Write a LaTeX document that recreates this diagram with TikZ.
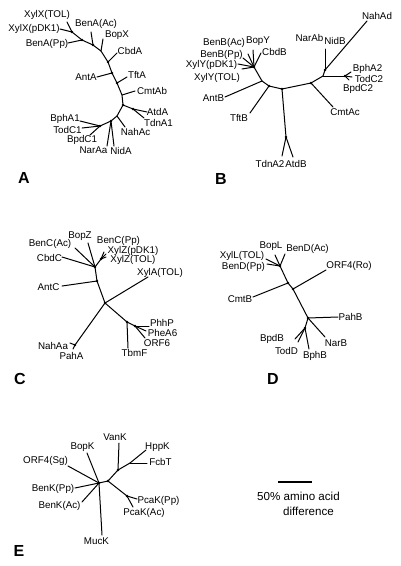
\documentclass[tikz,border=0pt]{standalone}
\usepackage{fontspec}
\setmainfont{Liberation Sans}
\tikzset{
  branch/.style={line width=1pt, line cap=round, line join=round},
  leaf/.style={inner sep=0pt, font=\fontsize{9.8}{11}\selectfont},
  paneltag/.style={inner sep=0pt, font=\fontsize{16}{18}\selectfont\bfseries},
  scaletext/.style={inner sep=0pt, font=\fontsize{11.6}{13}\selectfont}
}
\def\drawbr{\draw[branch]}
\def\leafnode{\node[leaf]}
\def\forkdot#1{\fill (#1) circle (1.3pt);}

\begin{document}
\begin{tikzpicture}[x=1pt,y=-1pt]
\useasboundingbox (0,0) rectangle (400,566);

% ---------- A : large subunits
\coordinate (a1) at (72,32);   % XylX fork
\coordinate (a2) at (82,40);
\coordinate (a3) at (93,45);
\coordinate (a4) at (101,51);
\coordinate (a5) at (108,62);
\coordinate (a6) at (112,73);
\coordinate (a7) at (117,83);
\coordinate (a8) at (122,95);
\coordinate (a9) at (123,105);
\coordinate (a10) at (117,116);
\coordinate (a11) at (111,121); % NarAa / NidA fork
\coordinate (a12) at (100,126); % BphA1 fork
\coordinate (a13) at (133,109); % AtdA / TdnA1 fork
\drawbr (a1) -- (a2) -- (a3) -- (a4) -- (a5) -- (a6) -- (a7) -- (a8) -- (a9) -- (a10) -- (a11) -- (a12);
\drawbr (a9) -- (a13);
\foreach \f in {a1,a2,a3,a5,a6,a7,a9,a11,a12,a13} {\forkdot{\f}}

\leafnode (xylxtol) at (47,15) {XylX(TOL)};
\leafnode (xylxpdk) at (34,29) {XylX(pDK1)};
\leafnode (benapp) at (47,44) {BenA(Pp)};
\leafnode (benaac) at (96,23.5) {BenA(Ac)};
\leafnode (bopx) at (117,35) {BopX};
\leafnode (cbda) at (130,51) {CbdA};
\leafnode (anta) at (86,77) {AntA};
\leafnode (tfta) at (137,75) {TftA};
\leafnode (cmtab) at (152,90.5) {CmtAb};
\leafnode (atda) at (157.5,112) {AtdA};
\leafnode (tdna) at (158.5,122.5) {TdnA1};
\leafnode (nahac) at (135.5,131.5) {NahAc};
\leafnode (naraa) at (93.5,150.5) {NarAa};
\leafnode (nida) at (121,150.5) {NidA};
\leafnode (bpha) at (65,118.5) {BphA1};
\leafnode (todc) at (67.5,130) {TodC1};
\leafnode (bpdc) at (82,140) {BpdC1};

\coordinate (e-xylxtol) at (67,22);
\coordinate (e-xylxpdk) at (60,29);
\coordinate (e-benapp) at (68,43);
\coordinate (e-benaac) at (91,32);
\coordinate (e-bopx) at (103,39);
\coordinate (e-cbda) at (117,53);
\coordinate (e-anta) at (97,77);
\coordinate (e-tfta) at (127,77);
\coordinate (e-cmtab) at (135,91);
\coordinate (e-atda) at (147,112);
\coordinate (e-tdna) at (144,118);
\coordinate (e-nahac) at (125,127);
\coordinate (e-naraa) at (107,146);
\coordinate (e-nida) at (114,146);
\coordinate (e-bpha) at (80,121);
\coordinate (e-todc) at (82,128);
\coordinate (e-bpdc) at (90,135);
\drawbr (e-xylxtol) -- (a1);
\drawbr (e-xylxpdk) -- (a1);
\drawbr (e-benapp) -- (a2);
\drawbr (e-benaac) -- (a3);
\drawbr (e-bopx) -- (a4);
\drawbr (e-cbda) -- (a5);
\drawbr (e-anta) -- (a6);
\drawbr (e-tfta) -- (a7);
\drawbr (e-cmtab) -- (a8);
\drawbr (e-atda) -- (a13);
\drawbr (e-tdna) -- (a13);
\drawbr (e-nahac) -- (a10);
\drawbr (e-naraa) -- (a11);
\drawbr (e-nida) -- (a11);
\drawbr (e-bpha) -- (a12);
\drawbr (e-todc) -- (a12);
\drawbr (e-bpdc) -- (a12);
\node[paneltag] (tagA) at (24,178) {A};

% ---------- B : small subunits
\coordinate (b1) at (325,70);  % NahAd / NidB fork
\coordinate (b2) at (323,76);
\coordinate (b3) at (345,76);  % BphA2 fork
\coordinate (b4) at (311,83);  % CmtAc fork
\coordinate (b5) at (282,89);
\coordinate (b6) at (286,137); % TdnA2 / AtdB fork
\coordinate (b7) at (269,86);
\coordinate (b8) at (262,81);
\coordinate (b9) at (254,67);  % BenB fork
\drawbr (b1) -- (b2) -- (b4) -- (b5) -- (b7) -- (b8) -- (b9);
\drawbr (b2) -- (b3);
\drawbr (b5) -- (b6);
\foreach \f in {b1,b3,b4,b5,b6,b7,b9} {\forkdot{\f}}

\leafnode (nahad) at (377,15.5) {NahAd};
\leafnode (narab) at (309.5,38) {NarAb};
\leafnode (nidb) at (335,41) {NidB};
\leafnode (bpha2) at (367.5,68.5) {BphA2};
\leafnode (todc2) at (369,78.5) {TodC2};
\leafnode (bpdc2) at (358,88.5) {BpdC2};
\leafnode (cmtac) at (345,112) {CmtAc};
\leafnode (tdna2) at (270,163.5) {TdnA2};
\leafnode (atdb) at (296,163.5) {AtdB};
\leafnode (tftb) at (239,117.5) {TftB};
\leafnode (antb) at (213.5,98) {AntB};
\leafnode (benbac) at (224,43) {BenB(Ac)};
\leafnode (bopy) at (258,41) {BopY};
\leafnode (cbdb) at (274.5,52) {CbdB};
\leafnode (benbpp) at (221.5,54.5) {BenB(Pp)};
\leafnode (xylypdk) at (211.5,64.5) {XylY(pDK1)};
\leafnode (xylytol) at (217,77.5) {XylY(TOL)};

\coordinate (e-nahad) at (367,21);
\coordinate (e-nidb) at (325,49);
\coordinate (e-bpha2) at (351,72);
\coordinate (e-todc2) at (352,77);
\coordinate (e-bpdc2) at (349,80);
\coordinate (e-cmtac) at (333,107);
\coordinate (e-tdna2) at (282,156);
\coordinate (e-atdb) at (293,157);
\coordinate (e-tftb) at (250,113);
\coordinate (e-antb) at (225,97);
\coordinate (e-benbac) at (248,54);
\coordinate (e-bopy) at (253,50);
\coordinate (e-cbdb) at (261,53);
\coordinate (e-benbpp) at (243,58);
\coordinate (e-xylypdk) at (238,64);
\coordinate (e-xylytol) at (242,69);
\drawbr (e-nahad) -- (b1);
\drawbr (e-nidb) -- (b1);
\drawbr (e-bpha2) -- (b3);
\drawbr (e-todc2) -- (b3);
\drawbr (e-bpdc2) -- (b3);
\drawbr (e-cmtac) -- (b4);
\drawbr (e-tdna2) -- (b6);
\drawbr (e-atdb) -- (b6);
\drawbr (e-tftb) -- (b7);
\drawbr (e-antb) -- (b8);
\drawbr (e-benbac) -- (b9);
\drawbr (e-bopy) -- (b9);
\drawbr (e-cbdb) -- (b9);
\drawbr (e-benbpp) -- (b9);
\drawbr (e-xylypdk) -- (b9);
\drawbr (e-xylytol) -- (b9);
\node[paneltag] (tagB) at (221,179) {B};

% ---------- C : reductases
\coordinate (c0) at (101,259); % BenC(Pp) / XylZ fork
\coordinate (c1) at (95,267);
\coordinate (c2) at (97,281);
\coordinate (c3) at (105,303); % central fork
\coordinate (c4) at (127,322); % TbmF fork
\coordinate (c5) at (135,326); % PhhP fork
\coordinate (c6) at (75,345);  % NahAa / PahA fork
\drawbr (c0) -- (c1) -- (c2) -- (c3) -- (c4) -- (c5);
\drawbr (c3) -- (c6);
\foreach \f in {c0,c1,c2,c3,c4,c5,c6} {\forkdot{\f}}

\leafnode (bencac) at (50,243.5) {BenC(Ac)};
\leafnode (bopz) at (80,236) {BopZ};
\leafnode (cbdc) at (49.5,258) {CbdC};
\leafnode (bencpp) at (118.5,241) {BenC(Pp)};
\leafnode (xylzpdk) at (133,251) {XylZ(pDK1)};
\leafnode (xylztol) at (133,260) {XylZ(TOL)};
\leafnode (xyla) at (160,272.5) {XylA(TOL)};
\leafnode (antc) at (48.5,287) {AntC};
\leafnode (tbmf) at (134.5,353) {TbmF};
\leafnode (phhp) at (162,323) {PhhP};
\leafnode (phea) at (162.5,333) {PheA6};
\leafnode (orf6) at (157,343) {ORF6};
\leafnode (nahaa) at (53,346) {NahAa};
\leafnode (paha) at (71.5,356) {PahA};

\coordinate (e-bencac) at (75,248);
\coordinate (e-bopz) at (88,243);
\coordinate (e-cbdc) at (62,257);
\coordinate (e-bencpp) at (104,252);
\coordinate (e-xylzpdk) at (106,254);
\coordinate (e-xylztol) at (106,257);
\coordinate (e-xyla) at (148,277);
\coordinate (e-antc) at (62,286);
\coordinate (e-tbmf) at (128,348);
\coordinate (e-phhp) at (149,326);
\coordinate (e-phea) at (146,331);
\coordinate (e-orf6) at (145,338);
\coordinate (e-nahaa) at (70,343);
\coordinate (e-paha) at (73,349);
\drawbr (e-bencac) -- (c1);
\drawbr (e-bopz) -- (c1);
\drawbr (e-cbdc) -- (c1);
\drawbr (e-bencpp) -- (c0);
\drawbr (e-xylzpdk) -- (c0);
\drawbr (e-xylztol) -- (c0);
\drawbr (e-xyla) -- (c3);
\drawbr (e-antc) -- (c2);
\drawbr (e-tbmf) -- (c4);
\drawbr (e-phhp) -- (c5);
\drawbr (e-phea) -- (c5);
\drawbr (e-orf6) -- (c5);
\drawbr (e-nahaa) -- (c6);
\drawbr (e-paha) -- (c6);
\node[paneltag] (tagC) at (20,379) {C};

% ---------- D : dehydrogenases
\coordinate (d1) at (280,266); % BenD fork
\coordinate (d2) at (288,283); % CmtB fork
\coordinate (d3) at (293,289); % ORF4(Ro) fork
\coordinate (d4) at (308,318); % PahB / NarB fork
\coordinate (d6) at (305,328); % BphB fork
\drawbr (d1) -- (d2) -- (d3) -- (d4) -- (d6);
\foreach \f in {d1,d2,d3,d4,d6} {\forkdot{\f}}

\leafnode (xylltol) at (242,256) {XylL(TOL)};
\leafnode (bendpp) at (243.5,267) {BenD(Pp)};
\leafnode (bopl) at (271,246.5) {BopL};
\leafnode (bendac) at (307.5,248.5) {BenD(Ac)};
\leafnode (orf4ro) at (349,266) {ORF4(Ro)};
\leafnode (cmtb) at (240,299) {CmtB};
\leafnode (pahb) at (350.5,317) {PahB};
\leafnode (narb) at (336,343) {NarB};
\leafnode (bpdb) at (272,339) {BpdB};
\leafnode (todd) at (286.5,351) {TodD};
\leafnode (bphb) at (315,355.5) {BphB};

\coordinate (e-xylltol) at (266,259);
\coordinate (e-bendpp) at (267,264);
\coordinate (e-bopl) at (275,255);
\coordinate (e-bendac) at (285,254);
\coordinate (e-orf4ro) at (326,270);
\coordinate (e-cmtb) at (253,297);
\coordinate (e-pahb) at (338,317);
\coordinate (e-narb) at (325,337);
\coordinate (e-bpdb) at (295,339);
\coordinate (e-todd) at (298,342);
\coordinate (e-bphb) at (309,349);
\drawbr (e-xylltol) -- (d1);
\drawbr (e-bendpp) -- (d1);
\drawbr (e-bopl) -- (d1);
\drawbr (e-bendac) -- (d1);
\drawbr (e-orf4ro) -- (d3);
\drawbr (e-cmtb) -- (d2);
\drawbr (e-pahb) -- (d4);
\drawbr (e-narb) -- (d4);
\drawbr (e-bpdb) -- (d6);
\drawbr (e-todd) -- (d6);
\drawbr (e-bphb) -- (d6);
\node[paneltag] (tagD) at (273,379) {D};

% ---------- E : transporters
\coordinate (e0) at (99,483);  % BenK fork
\coordinate (e1) at (108,481);
\coordinate (e2) at (118,470); % VanK fork
\coordinate (e3) at (130,463); % HppK / FcbT fork
\coordinate (e4) at (127,496); % PcaK fork
\drawbr (e0) -- (e1) -- (e2) -- (e3);
\drawbr (e1) -- (e4);
\foreach \f in {e0,e1,e2,e4} {\forkdot{\f}}

\leafnode (orf4sg) at (45.5,461) {ORF4(Sg)};
\leafnode (bopk) at (82.5,447) {BopK};
\leafnode (benkpp) at (53,489) {BenK(Pp)};
\leafnode (benkac) at (59.5,506) {BenK(Ac)};
\leafnode (muck) at (96.5,541) {MucK};
\leafnode (vank) at (115,437) {VanK};
\leafnode (hppk) at (157.5,447) {HppK};
\leafnode (fcbt) at (160.5,462) {FcbT};
\leafnode (pcakpp) at (158.5,501) {PcaK(Pp)};
\leafnode (pcakac) at (144,513) {PcaK(Ac)};

\coordinate (e-orf4sg) at (68,466);
\coordinate (e-bopk) at (87,453);
\coordinate (e-benkpp) at (75,488);
\coordinate (e-benkac) at (82,502);
\coordinate (e-muck) at (102,535);
\coordinate (e-vank) at (119,443);
\coordinate (e-hppk) at (146,450);
\coordinate (e-fcbt) at (147,463);
\coordinate (e-pcakpp) at (137,499);
\coordinate (e-pcakac) at (133,507);
\drawbr (e-orf4sg) -- (e0);
\drawbr (e-bopk) -- (e0);
\drawbr (e-benkpp) -- (e0);
\drawbr (e-benkac) -- (e0);
\drawbr (e-muck) -- (e0);
\drawbr (e-vank) -- (e2);
\drawbr (e-hppk) -- (e3);
\drawbr (e-fcbt) -- (e3);
\drawbr (e-pcakpp) -- (e4);
\drawbr (e-pcakac) -- (e4);
\node[paneltag] (tagE) at (19,551) {E};

% ---------- scale bar
\coordinate (bar-l) at (278,482);
\coordinate (bar-r) at (312,482);
\draw[line width=1.2pt] (bar-l) -- (bar-r);
\node[scaletext] (barline1) at (298.5,496.5) {50\% amino acid};
\node[scaletext] (barline2) at (308.5,511.5) {difference};
\end{tikzpicture}
\end{document}
